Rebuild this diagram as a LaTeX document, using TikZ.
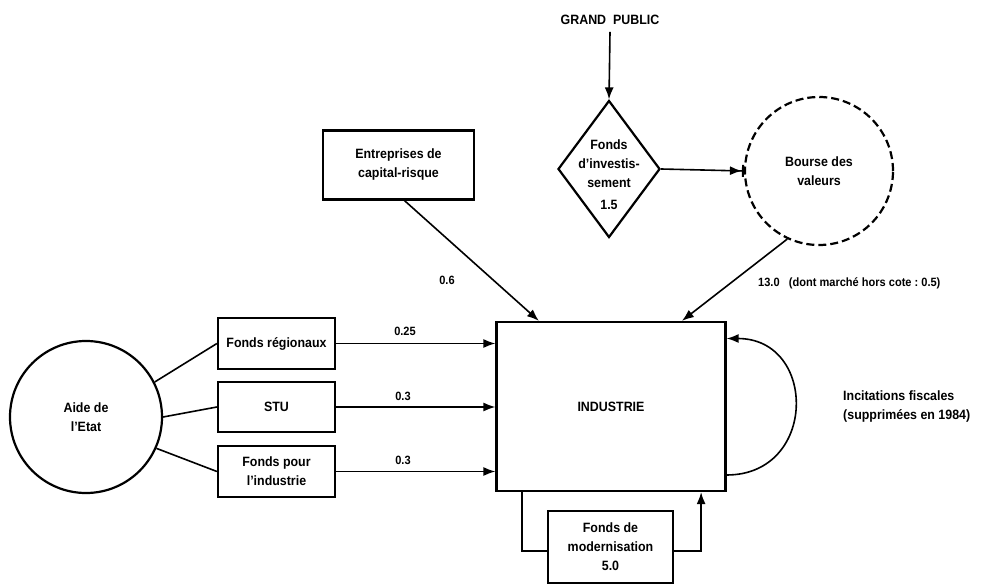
\documentclass[tikz,border=0pt]{standalone}
\usepackage{fontspec}
\setmainfont{Liberation Sans}[FakeStretch=0.92]
\usetikzlibrary{shapes.geometric,arrows.meta,calc}
\begin{document}
\begin{tikzpicture}[x=1pt,y=-1pt,
  every node/.style={font=\bfseries\fontsize{13.5}{19}\selectfont, inner sep=0pt, align=center},
  box/.style={draw, line width=2.2pt},
  conn/.style={line width=1.6pt},
  arr/.style={conn, -{Latex[length=12pt,width=9pt]}},
  lbl/.style={font=\bfseries\fontsize{12}{15}\selectfont}]
\useasboundingbox (0,0) rectangle (982,585);

% nodes
\node (gp) at (610,20) {GRAND\ \ PUBLIC};
\node[box, diamond, minimum width=102pt, minimum height=137pt] (fi) at (609,169) {};
\node (fitxt) at (609,175) {Fonds\\d'investis-\\sement\\[3pt]1.5};
\node[draw, circle, dashed, line width=2.2pt, dash pattern=on 8pt off 4pt, minimum size=148pt] (bv) at (819,171) {Bourse des\\valeurs};
\node[box, minimum width=151pt, minimum height=69pt] (ecr) at (398.5,165) {Entreprises de\\capital-risque};
\node[box, minimum width=229pt, minimum height=169pt] (ind) at (611,406.5) {INDUSTRIE};
\node[box, circle, minimum size=152pt] (ae) at (86,417) {Aide de\\l'Etat};
\node[box, minimum width=117pt, minimum height=51pt] (fr) at (276.5,343.5) {Fonds régionaux};
\node[box, minimum width=117pt, minimum height=50pt] (stu) at (276.5,407) {STU};
\node[box, minimum width=117pt, minimum height=51pt] (fpi) at (276.5,471.5) {Fonds pour\\l'industrie};
\node[box, minimum width=125pt, minimum height=72pt] (fm) at (610.5,547) {Fonds de\\modernisation\\5.0};
\node[anchor=west, align=left] (inc) at (843,407) {Incitations fiscales\\(supprimées en 1984)};

% labels
\node[lbl] (l06) at (447,280) {0.6};
\node[lbl, anchor=west] (l13) at (758,283) {13.0\ \ \ (dont marché hors cote :\ 0.5)};
\node[lbl] (l025) at (405,331) {0.25};
\node[lbl] (l03a) at (403,396) {0.3};
\node[lbl] (l03b) at (403,460) {0.3};

% helper coordinates
\coordinate (indA) at ([xshift=43.5pt]ind.north west);
\coordinate (indB) at ([xshift=186.5pt]ind.north west);
\coordinate (indC) at ([xshift=26.5pt]ind.south west);
\coordinate (indD) at ([xshift=-25.5pt]ind.south east);
\coordinate (lp1) at ($(ind.east)+(0,68.5)$);
\coordinate (lp2) at ($(ind.east)+(0,-68)$);

% connectors
\draw[arr] ([yshift=-7pt]gp.south) -- (fi.north);
\draw[conn, -{Latex[length=12pt,width=9pt]Bar[width=12pt,line width=2pt]}] (fi.east) -- (bv.west);
\draw[arr] ([xshift=6pt]ecr.south) -- (indA);
\draw[arr] (bv.245) -- (indB);
\draw[conn] (ae.27) -- (fr.west);
\draw[conn] (ae.east) -- (stu.west);
\draw[conn] (ae.-24) -- (fpi.west);
\draw[arr] (fr.east) -- (fr -| ind.west);
\draw[arr] (stu.east) -- (stu -| ind.west);
\draw[arr] (fpi.east) -- (fpi -| ind.west);
\draw[conn] (indC) |- ([yshift=-4pt]fm.west);
\draw[arr] ([yshift=-4pt]fm.east) -| (indD);
\draw[arr] (lp1) .. controls ($(lp1)+(91,0)$) and ($(lp2)+(91,0)$) .. (lp2);
\end{tikzpicture}
\end{document}
